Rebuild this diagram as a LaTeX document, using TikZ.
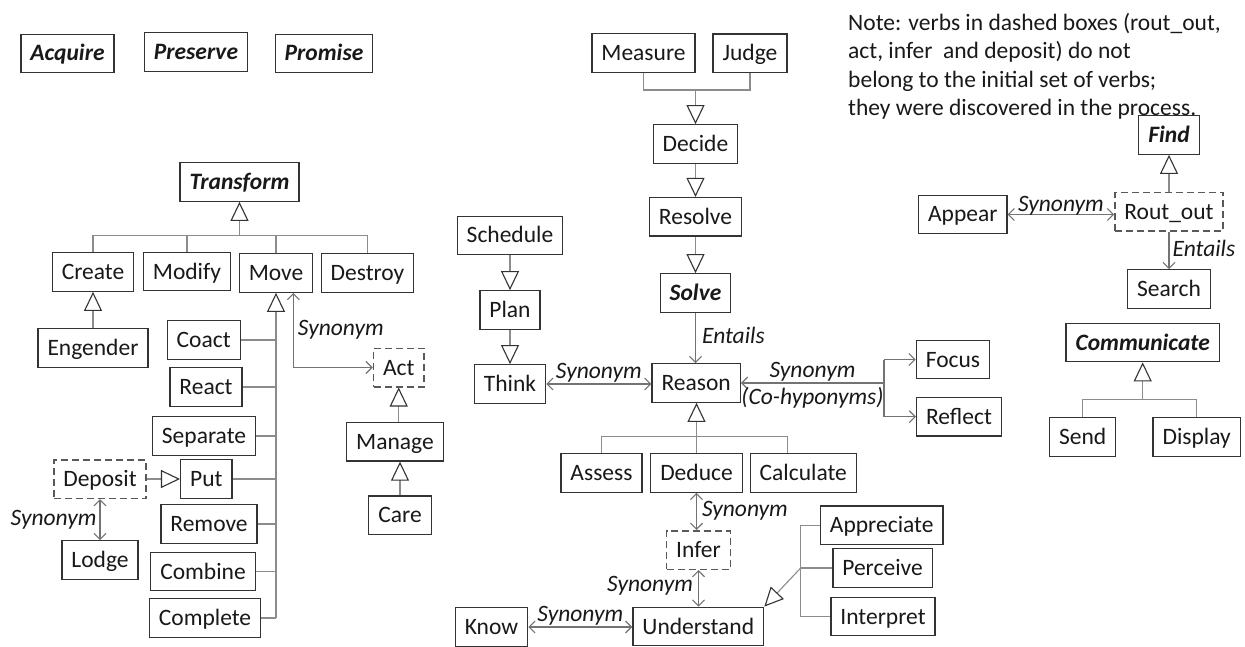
\documentclass[tikz,border=0pt]{standalone}
\usepackage{fontspec}
\setmainfont{Carlito}
\usetikzlibrary{arrows.meta}
\begin{document}
\begin{tikzpicture}[x=1pt,y=-1pt,
  every node/.style={font=\fontsize{23.5pt}{28.5pt}\selectfont},
  verb/.style={draw=black!80, line width=1.3pt, minimum height=38.5pt,
    inner xsep=9.5pt, inner ysep=0pt, text height=16pt, text depth=1pt, text=black!90},
  newverb/.style={verb, draw=black!65, line width=1.5pt, dash pattern=on 7pt off 4pt},
  topverb/.style={verb, font=\fontsize{23.5pt}{28.5pt}\selectfont\bfseries\itshape},
  conn/.style={draw=black!45, line width=1.1pt},
  gen/.style={conn, -{Triangle[length=19pt,width=18pt,fill=white,color=black!80]}},
  rel/.style={draw=black!55, line width=1.1pt},
  syn/.style={rel, {Straight Barb[length=6pt,width=12pt]}-{Straight Barb[length=6pt,width=12pt]}},
  ent/.style={rel, -{Straight Barb[length=6pt,width=12pt]}},
  lab/.style={font=\fontsize{23.5pt}{28.5pt}\selectfont\itshape, inner sep=0pt,
    text height=16pt, text depth=5pt, text=black!90},
]
\fill[white] (0,0) rectangle (1245,647);
\useasboundingbox (0,0) rectangle (1245,647);

% top-level verbs without children
\node[topverb] (acquire) at (67.5,53.5) {Acquire};
\node[topverb] (preserve) at (196,52) {Preserve};
\node[topverb] (promise) at (324,53.5) {Promise};

% Transform family
\node[topverb] (transform) at (239.5,182) {Transform};
\node[verb] (create) at (93,272) {Create};
\node[verb] (modify) at (187,271.5) {Modify};
\node[verb] (move) at (276,273) {Move};
\node[verb] (destroy) at (367.5,273) {Destroy};
\node[verb] (engender) at (93,348) {Engender};
\node[verb] (coact) at (203.7,340) {Coact};
\node[verb] (react) at (206,387) {React};
\node[verb] (separate) at (204,436) {Separate};
\node[verb] (put) at (206.3,479) {Put};
\node[verb] (remove) at (209,524) {Remove};
\node[verb] (combine) at (203,571.5) {Combine};
\node[verb] (complete) at (205,618) {Complete};
\node[newverb] (deposit) at (100,479) {Deposit};
\node[verb] (lodge) at (100,560) {Lodge};
\node[newverb] (act) at (398.7,367.5) {Act};
\node[verb] (manage) at (395,441.8) {Manage};
\node[verb] (care) at (400,515.3) {Care};

% Solve / Reason family
\node[verb] (measure) at (643.5,53) {Measure};
\node[verb] (judge) at (750,53.3) {Judge};
\node[verb] (decide) at (695.5,144) {Decide};
\node[verb] (resolve) at (695.5,216.8) {Resolve};
\node[topverb] (solve) at (695.5,293) {Solve};
\node[verb] (schedule) at (510,235.5) {Schedule};
\node[verb] (plan) at (510,310) {Plan};
\node[verb] (think) at (510,384) {Think};
\node[verb] (reason) at (696.2,383) {Reason};
\node[verb] (focus) at (953,359.5) {Focus};
\node[verb] (reflect) at (959,416.7) {Reflect};
\node[verb] (assess) at (601.5,473) {Assess};
\node[verb] (deduce) at (696.5,473) {Deduce};
\node[verb] (calculate) at (803.3,473) {Calculate};
\node[newverb] (infer) at (698.5,550) {Infer};
\node[verb] (understand) at (698.3,626.5) {Understand};
\node[verb] (know) at (491.5,627) {Know};
\node[verb] (appreciate) at (881.7,525.3) {Appreciate};
\node[verb] (perceive) at (882.5,568) {Perceive};
\node[verb] (interpret) at (883,616.5) {Interpret};

% Find / Communicate families
\node[topverb] (find) at (1169,135) {Find};
\node[newverb] (routout) at (1169,212) {Rout\_out};
\node[verb] (appear) at (962.8,214.5) {Appear};
\node[verb] (search) at (1169,289) {Search};
\node[topverb] (communicate) at (1142.7,342.5) {Communicate};
\node[verb] (send) at (1082.7,437) {Send};
\node[verb] (display) at (1196.7,437) {Display};

% explanatory note
\node[align=left, anchor=north west, inner sep=0pt, text=black!90] (note) at (848,13)
  {Note: verbs in dashed boxes (rout\_out,\\act, infer\ \ and deposit) do not\\belong to the initial set of verbs;\\they were discovered in the process.};

% ---- Transform hierarchy
\coordinate (tbar) at (239.5,235.7);
\draw[conn] (create.north) |- (tbar) -| (destroy.north);
\draw[conn] (modify.north) -- (modify.north |- tbar);
\draw[conn] (move.north) -- (move.north |- tbar);
\draw[gen] (tbar) -- (transform.south);
\draw[gen] (engender.north) -- (create.south);

\draw[gen] (move.south |- complete.east) -- (move.south);
\foreach \nd in {coact,react,separate,put,remove,combine,complete}
  \draw[conn] (\nd.east) -- (\nd.east -| move.south);

\draw[gen] (deposit.east) -- (put.west);
\draw[syn] (deposit.south) -- node[lab, left=3pt] {Synonym} (lodge.north);

\draw[syn] ([xshift=-20pt]move.south east) |- node[lab, pos=0.25, right=4pt] {Synonym} (act.west);
\draw[gen] (act.south |- manage.north) -- (act.south);
\draw[gen] (care.north) -- (care.north |- manage.south);

% ---- Solve / Reason hierarchy
\coordinate (mjbar) at (decide.north |- 0,90);
\draw[conn] (measure.south) |- (mjbar) -| (judge.south);
\draw[gen] (mjbar) -- (decide.north);
\draw[gen] (decide.south) -- (resolve.north);
\draw[gen] (resolve.south) -- (solve.north);
\draw[gen] (schedule.south) -- (plan.north);
\draw[gen] (plan.south) -- (think.north);

\draw[ent] (solve.south) -- node[lab, right=6pt] {Entails} (solve.south |- reason.north);
\draw[syn] (think.east) -- node[lab, above] {Synonym} (think.east -| reason.west);

\coordinate (fork) at (reason.east -| 884,0);
\draw[ent] (fork) -- node[lab, above] {Synonym} node[lab, below=5pt] {(Co-hyponyms)} (reason.east);
\draw[rel] (fork |- focus.west) -- (fork |- reflect.west);
\draw[ent] (fork |- focus.west) -- (focus.west);
\draw[ent] (fork |- reflect.west) -- (reflect.west);

\coordinate (rbar) at (deduce.north |- 0,436.7);
\draw[conn] (assess.north) |- (rbar) -| ([xshift=-16pt]calculate.north);
\draw[gen] (deduce.north) -- (deduce.north |- reason.south);

\draw[syn] (deduce.south) -- node[lab, right=5pt] {Synonym} (deduce.south |- infer.north);
\draw[syn] (infer.south) -- node[lab, left=5pt, pos=0.45] {Synonym} (infer.south |- understand.north);
\draw[syn] (know.east) -- node[lab, above] {Synonym} (know.east -| understand.west);

\coordinate (brk) at (800.7,568);
\draw[conn] (appreciate.west) -| (brk |- interpret.west) -- (interpret.west);
\draw[conn] (perceive.west) -- (perceive.west -| brk);
\draw[gen] (perceive.west -| brk) -- (understand.north east);

% ---- Find / Communicate hierarchy
\draw[gen] (routout.north) -- (routout.north |- find.south);
\draw[syn] (appear.east) -- node[lab, above=-3pt] {Synonym} (appear.east -| routout.west);
\draw[ent] (routout.south) -- node[lab, right=3pt] {Entails} (routout.south |- search.north);

\coordinate (cbar) at (communicate.south |- 0,399.3);
\draw[conn] (send.north) |- (cbar) -| (display.north);
\draw[gen] (cbar) -- (communicate.south);
\end{tikzpicture}
\end{document}
